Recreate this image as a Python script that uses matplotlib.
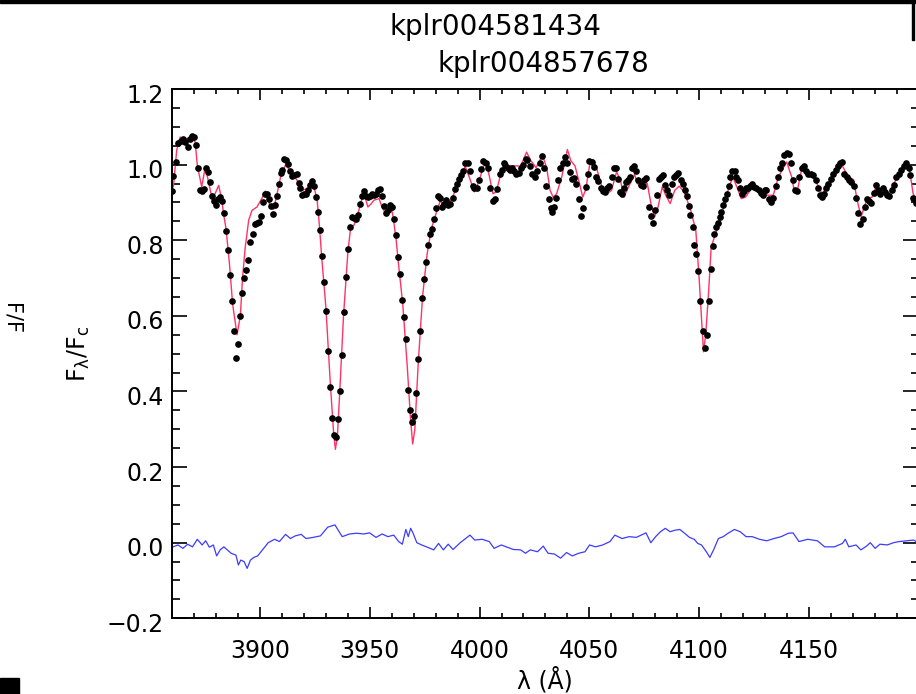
import numpy as np
import matplotlib
matplotlib.use("Agg")
import matplotlib.pyplot as plt
from matplotlib.ticker import MultipleLocator
from matplotlib.patches import Rectangle
import matplotlib.transforms as mtransforms

obs_wave = [3859.9, 3860.5, 3861.6, 3862.7, 3863.8, 3864.8, 3865.8, 3867.0, 3868.1, 3869.1,
            3870.1, 3871.0, 3871.9, 3872.8, 3873.7, 3874.6, 3875.5, 3876.4, 3877.3, 3878.2,
            3879.1, 3880.0, 3880.9, 3881.8, 3882.7, 3883.6, 3884.5, 3885.4, 3886.3, 3887.2,
            3888.1, 3889.0, 3889.9, 3890.8, 3891.7, 3892.7, 3893.7, 3894.6, 3895.6, 3896.6,
            3897.5, 3898.6, 3899.3, 3900.2, 3901.2, 3902.1, 3903.0, 3903.9, 3904.8, 3905.7,
            3906.6, 3907.6, 3908.5, 3909.4, 3910.2, 3911.1, 3911.9, 3912.8, 3913.8, 3914.7,
            3915.6, 3916.6, 3917.5, 3918.4, 3919.3, 3920.2, 3921.1, 3921.9, 3922.8, 3923.7,
            3924.7, 3925.6, 3926.3, 3927.4, 3928.2, 3929.0, 3930.1, 3931.1, 3932.0, 3932.7,
            3933.6, 3934.5, 3935.6, 3936.3, 3937.4, 3938.2, 3939.1, 3940.1, 3940.9, 3941.8,
            3942.8, 3943.5, 3944.6, 3945.5, 3946.4, 3947.3, 3948.2, 3949.2, 3950.1, 3951.0,
            3951.9, 3952.8, 3953.7, 3954.6, 3955.5, 3956.3, 3957.3, 3958.2, 3959.1, 3960.0,
            3960.9, 3962.0, 3962.9, 3963.8, 3964.7, 3965.6, 3966.5, 3967.5, 3968.4, 3969.3,
            3970.2, 3971.1, 3972.0, 3973.0, 3973.9, 3974.8, 3975.7, 3976.6, 3977.5, 3978.4,
            3979.3, 3980.2, 3981.2, 3982.1, 3983.0, 3983.9, 3984.8, 3985.7, 3986.7, 3987.8,
            3988.8, 3989.7, 3990.8, 3991.6, 3992.3, 3993.4, 3994.6, 3995.8, 3996.9, 3997.6,
            3998.7, 3999.6, 4000.7, 4001.6, 4002.7, 4003.8, 4004.9, 4006.0, 4007.1, 4008.0,
            4009.1, 4010.2, 4010.9, 4011.8, 4012.9, 4013.7, 4014.7, 4015.6, 4016.8, 4017.9,
            4019.0, 4020.0, 4021.0, 4021.7, 4022.8, 4023.9, 4025.1, 4026.2, 4027.4, 4028.4,
            4029.4, 4030.4, 4031.5, 4032.4, 4033.2, 4033.9, 4035.0, 4035.8, 4036.8, 4038.1,
            4039.1, 4040.0, 4041.1, 4042.2, 4043.1, 4044.1, 4045.2, 4046.1, 4047.0, 4048.3,
            4049.2, 4049.9, 4051.0, 4052.0, 4053.1, 4054.1, 4055.2, 4056.2, 4057.1, 4058.2,
            4059.1, 4060.1, 4061.2, 4062.0, 4062.9, 4063.9, 4064.7, 4065.6, 4066.5, 4067.4,
            4068.5, 4069.3, 4070.3, 4071.2, 4072.3, 4073.4, 4074.3, 4075.1, 4076.0, 4077.1,
            4078.1, 4079.0, 4080.0, 4080.9, 4081.7, 4082.5, 4083.5, 4084.5, 4085.6, 4086.5,
            4087.6, 4088.6, 4089.5, 4090.6, 4091.7, 4092.5, 4093.4, 4094.3, 4095.2, 4095.9,
            4097.0, 4097.9, 4098.8, 4099.7, 4100.6, 4101.6, 4102.5, 4103.5, 4104.5, 4105.5,
            4106.3, 4107.0, 4107.8, 4108.6, 4109.4, 4110.2, 4110.9, 4111.8, 4112.5, 4113.4,
            4114.3, 4115.2, 4116.3, 4117.0, 4117.9, 4118.5, 4119.4, 4120.3, 4121.2, 4122.3,
            4123.4, 4124.3, 4125.2, 4126.1, 4127.2, 4128.0, 4128.9, 4129.9, 4130.7, 4131.9,
            4132.9, 4133.8, 4134.9, 4135.8, 4136.9, 4137.9, 4138.8, 4139.9, 4141.0, 4141.8,
            4142.7, 4143.7, 4144.8, 4145.7, 4146.8, 4147.8, 4148.8, 4149.8, 4150.9, 4152.1,
            4153.2, 4154.1, 4155.2, 4156.2, 4157.1, 4157.9, 4158.9, 4160.0, 4161.2, 4162.3,
            4163.2, 4164.3, 4165.3, 4166.2, 4167.3, 4168.4, 4169.3, 4170.4, 4171.5, 4172.4,
            4173.4, 4174.5, 4175.4, 4176.5, 4177.6, 4178.5, 4179.5, 4180.6, 4181.5, 4182.6,
            4183.6, 4184.6, 4185.6, 4186.7, 4187.9, 4189.0, 4189.9, 4190.9, 4192.0, 4193.2,
            4194.3, 4195.5, 4196.3, 4197.5, 4198.6]
obs_flux = [0.930, 0.969, 1.006, 1.057, 1.062, 1.067, 1.060, 1.047, 1.069, 1.075,
            1.074, 1.051, 0.990, 0.934, 0.930, 0.935, 0.991, 0.981, 0.955, 0.917,
            0.903, 0.893, 0.908, 0.914, 0.903, 0.872, 0.825, 0.775, 0.709, 0.640,
            0.560, 0.488, 0.525, 0.600, 0.660, 0.701, 0.720, 0.747, 0.795, 0.816,
            0.842, 0.846, 0.849, 0.864, 0.901, 0.922, 0.922, 0.908, 0.890, 0.870,
            0.893, 0.918, 0.948, 0.979, 0.987, 1.015, 1.011, 1.002, 0.983, 0.970,
            0.972, 0.974, 0.951, 0.937, 0.919, 0.923, 0.923, 0.934, 0.947, 0.957,
            0.944, 0.914, 0.875, 0.828, 0.758, 0.690, 0.612, 0.506, 0.413, 0.331,
            0.285, 0.280, 0.326, 0.400, 0.496, 0.609, 0.703, 0.778, 0.835, 0.861,
            0.859, 0.855, 0.866, 0.897, 0.916, 0.930, 0.917, 0.914, 0.918, 0.921,
            0.919, 0.923, 0.932, 0.935, 0.918, 0.890, 0.872, 0.881, 0.893, 0.888,
            0.855, 0.815, 0.755, 0.710, 0.641, 0.598, 0.539, 0.405, 0.350, 0.320,
            0.336, 0.396, 0.485, 0.560, 0.646, 0.698, 0.743, 0.787, 0.817, 0.831,
            0.857, 0.884, 0.916, 0.913, 0.888, 0.895, 0.906, 0.892, 0.897, 0.913,
            0.936, 0.950, 0.961, 0.972, 0.983, 1.004, 1.004, 0.983, 0.943, 0.937,
            0.937, 0.960, 0.988, 1.010, 1.004, 0.991, 0.938, 0.904, 0.908, 0.935,
            0.974, 0.987, 1.003, 0.998, 0.992, 0.987, 0.991, 0.983, 0.974, 0.978,
            0.990, 0.998, 1.016, 1.011, 0.996, 0.974, 0.967, 0.983, 1.004, 1.022,
            0.992, 0.943, 0.908, 0.884, 0.875, 0.888, 0.913, 0.959, 0.990, 1.004,
            1.019, 1.004, 0.981, 0.963, 0.965, 0.948, 0.910, 0.863, 0.884, 0.941,
            0.974, 1.009, 1.007, 0.994, 0.967, 0.957, 0.937, 0.930, 0.928, 0.938,
            0.943, 0.966, 0.992, 0.992, 0.963, 0.928, 0.921, 0.937, 0.954, 0.959,
            0.966, 0.990, 0.996, 0.982, 0.960, 0.945, 0.943, 0.960, 0.965, 0.888,
            0.863, 0.846, 0.879, 0.920, 0.962, 0.966, 0.972, 0.945, 0.932, 0.919,
            0.950, 0.966, 0.972, 0.978, 0.960, 0.948, 0.932, 0.916, 0.890, 0.866,
            0.835, 0.787, 0.763, 0.719, 0.640, 0.560, 0.515, 0.550, 0.640, 0.725,
            0.784, 0.816, 0.835, 0.846, 0.862, 0.875, 0.893, 0.908, 0.922, 0.943,
            0.967, 0.982, 0.982, 0.967, 0.960, 0.937, 0.923, 0.930, 0.937, 0.937,
            0.943, 0.948, 0.941, 0.937, 0.934, 0.925, 0.919, 0.932, 0.934, 0.910,
            0.901, 0.913, 0.943, 0.966, 0.992, 1.004, 1.025, 1.031, 1.027, 1.003,
            0.959, 0.932, 0.930, 0.967, 0.992, 0.996, 0.983, 0.976, 0.976, 0.972,
            0.958, 0.939, 0.919, 0.914, 0.922, 0.937, 0.950, 0.963, 0.974, 0.985,
            0.996, 1.003, 1.007, 0.976, 0.966, 0.958, 0.954, 0.943, 0.913, 0.871,
            0.842, 0.855, 0.888, 0.908, 0.904, 0.899, 0.925, 0.945, 0.934, 0.923,
            0.937, 0.928, 0.919, 0.916, 0.932, 0.945, 0.967, 0.976, 0.987, 0.996,
            1.003, 0.990, 0.972, 0.913, 0.899]

# synthetic model (red line)
model_wave = [3860.5, 3862.0, 3863.6, 3865.1, 3866.6, 3868.9, 3870.4, 3871.4, 3873.4, 3874.9,
              3875.7, 3878.0, 3879.5, 3881.1, 3882.6, 3883.3, 3884.5, 3886.0, 3887.5, 3889.5,
              3891.0, 3892.0, 3893.2, 3894.8, 3896.3, 3898.6, 3900.9, 3902.4, 3904.7, 3906.2,
              3907.4, 3909.5, 3911.5, 3913.8, 3916.9, 3919.2, 3921.5, 3923.7, 3924.3, 3926.0,
              3927.0, 3928.0, 3930.0, 3932.0, 3933.5, 3934.3, 3935.2, 3936.3, 3938.0, 3940.0,
              3941.3, 3942.8, 3944.6, 3946.6, 3947.6, 3949.1, 3950.7, 3951.9, 3954.2, 3955.5,
              3956.8, 3958.3, 3959.6, 3960.6, 3962.0, 3963.0, 3965.0, 3967.0, 3968.5, 3969.5,
              3970.5, 3972.0, 3974.0, 3976.0, 3978.0, 3980.7, 3982.2, 3983.7, 3985.5, 3987.5,
              3989.7, 3991.6, 3993.4, 3995.3, 3997.6, 3999.9, 4002.2, 4003.8, 4006.1, 4007.6,
              4009.9, 4011.4, 4015.0, 4018.7, 4021.4, 4023.3, 4025.7, 4028.7, 4030.6, 4032.1,
              4033.6, 4035.1, 4037.4, 4040.0, 4041.5, 4043.5, 4045.5, 4047.0, 4048.4, 4050.5,
              4051.7, 4053.5, 4055.8, 4058.1, 4060.1, 4062.4, 4064.2, 4065.7, 4068.0, 4070.6,
              4071.8, 4074.1, 4076.4, 4078.2, 4079.8, 4081.3, 4083.2, 4084.8, 4086.8, 4088.9,
              4090.9, 4093.2, 4096.2, 4098.5, 4100.0, 4101.0, 4102.0, 4103.0, 4104.3, 4105.5,
              4108.5, 4110.8, 4113.6, 4115.4, 4117.2, 4119.2, 4121.2, 4123.8, 4126.1, 4128.4,
              4131.5, 4133.8, 4136.1, 4138.4, 4139.9, 4142.2, 4143.3, 4144.8, 4146.8, 4149.1,
              4151.4, 4153.7, 4156.0, 4159.0, 4162.1, 4165.1, 4168.1, 4170.4, 4172.0, 4173.8,
              4176.5, 4178.8, 4180.8, 4183.4, 4186.4, 4189.5, 4193.2, 4195.9, 4197.5, 4199.0]
model_flux = [0.941, 1.038, 1.073, 1.066, 1.069, 1.073, 1.060, 0.998, 0.941, 0.990,
              0.976, 0.914, 0.923, 0.945, 0.906, 0.871, 0.830, 0.740, 0.630, 0.550,
              0.600, 0.700, 0.780, 0.853, 0.879, 0.888, 0.912, 0.930, 0.888, 0.882,
              0.914, 0.972, 0.998, 0.985, 0.958, 0.932, 0.937, 0.945, 0.947, 0.906,
              0.840, 0.760, 0.620, 0.420, 0.290, 0.247, 0.280, 0.400, 0.600, 0.770,
              0.835, 0.840, 0.871, 0.914, 0.919, 0.888, 0.897, 0.906, 0.910, 0.888,
              0.875, 0.871, 0.890, 0.862, 0.800, 0.740, 0.630, 0.470, 0.330, 0.261,
              0.300, 0.470, 0.650, 0.760, 0.830, 0.881, 0.906, 0.884, 0.895, 0.910,
              0.945, 0.958, 0.996, 0.967, 0.928, 0.958, 1.007, 0.987, 0.923, 0.928,
              0.981, 0.998, 0.997, 0.996, 1.033, 1.011, 0.992, 1.025, 0.990, 0.932,
              0.913, 0.923, 0.967, 1.040, 1.011, 0.996, 0.950, 0.914, 0.935, 1.013,
              1.013, 0.987, 0.939, 0.923, 0.932, 0.981, 0.958, 0.914, 0.943, 0.974,
              0.950, 0.941, 0.950, 0.892, 0.862, 0.888, 0.941, 0.919, 0.897, 0.932,
              0.943, 0.928, 0.879, 0.826, 0.700, 0.600, 0.505, 0.550, 0.660, 0.782,
              0.835, 0.879, 0.941, 0.967, 0.941, 0.910, 0.914, 0.937, 0.932, 0.923,
              0.919, 0.919, 0.967, 0.992, 1.007, 0.967, 0.932, 0.932, 0.990, 0.976,
              0.972, 0.950, 0.923, 0.945, 0.976, 0.998, 0.967, 0.960, 0.906, 0.862,
              0.910, 0.914, 0.945, 0.932, 0.923, 0.958, 0.996, 0.985, 0.923, 0.906]

# residual (blue line)
resid_wave = [3860.4, 3862.6, 3864.8, 3867.0, 3869.2, 3871.4, 3873.6, 3875.2, 3876.9, 3878.7,
              3880.2, 3881.8, 3883.5, 3886.8, 3889.0, 3890.1, 3891.2, 3892.7, 3894.1, 3895.6,
              3897.1, 3898.9, 3901.1, 3903.7, 3906.6, 3908.8, 3911.6, 3913.8, 3916.0, 3918.7,
              3920.9, 3924.2, 3927.5, 3930.8, 3934.1, 3937.4, 3940.7, 3944.0, 3947.3, 3949.9,
              3952.8, 3955.6, 3958.2, 3960.9, 3963.1, 3964.8, 3966.4, 3967.5, 3968.6, 3969.7,
              3971.4, 3973.6, 3975.8, 3979.1, 3981.3, 3983.5, 3985.7, 3987.9, 3991.2, 3995.6,
              3997.8, 4001.1, 4004.4, 4006.6, 4009.9, 4012.1, 4015.4, 4018.7, 4020.9, 4023.1,
              4026.4, 4029.0, 4031.2, 4034.1, 4036.9, 4039.6, 4042.2, 4045.1, 4048.0, 4050.1,
              4052.8, 4056.1, 4059.4, 4061.6, 4064.9, 4068.2, 4071.4, 4074.7, 4075.8, 4078.0,
              4080.2, 4082.4, 4084.6, 4086.8, 4089.0, 4091.2, 4093.4, 4095.6, 4097.8, 4099.4,
              4101.1, 4103.3, 4104.9, 4106.6, 4108.8, 4111.0, 4113.2, 4116.1, 4118.7, 4121.4,
              4124.2, 4127.5, 4130.8, 4134.1, 4137.4, 4140.7, 4142.8, 4145.5, 4149.5, 4153.9,
              4157.2, 4161.6, 4165.3, 4166.6, 4168.2, 4171.5, 4173.7, 4176.3, 4178.0, 4180.2,
              4182.4, 4185.7, 4188.6, 4191.2, 4194.5, 4197.8, 4199.6]
resid_flux = [-0.011, -0.006, -0.015, -0.004, -0.011, 0.009, -0.006, 0.005, -0.012, -0.006,
              -0.035, -0.019, -0.011, -0.028, -0.033, -0.059, -0.046, -0.050, -0.068, -0.046,
              -0.039, -0.035, -0.019, 0.000, 0.009, 0.003, 0.022, 0.011, 0.018, 0.022,
              0.011, 0.014, 0.018, 0.041, 0.047, 0.016, 0.023, 0.025, 0.023, 0.026,
              0.014, 0.023, 0.016, 0.020, 0.003, -0.004, 0.035, 0.016, 0.038, 0.025,
              0.000, -0.006, -0.011, -0.019, -0.002, -0.019, -0.004, -0.018, 0.000, 0.020,
              0.007, 0.009, 0.003, -0.015, -0.006, -0.011, -0.018, -0.019, -0.028, -0.019,
              -0.024, -0.009, -0.028, -0.030, -0.041, -0.026, -0.035, -0.028, -0.024, -0.006,
              -0.011, -0.006, 0.003, 0.020, 0.011, 0.016, 0.014, 0.023, 0.026, 0.000,
              0.016, 0.029, 0.038, 0.029, 0.033, 0.035, 0.025, 0.014, 0.009, -0.002,
              -0.006, -0.024, -0.039, -0.019, 0.011, 0.016, 0.025, 0.035, 0.029, 0.016,
              0.016, 0.009, 0.005, 0.011, 0.016, 0.025, 0.026, 0.003, 0.009, 0.005,
              -0.011, -0.011, -0.002, 0.009, -0.011, -0.006, -0.019, -0.009, 0.000, -0.015,
              -0.004, -0.006, 0.000, 0.003, 0.005, 0.007, 0.000]

xticks = [3900, 3950, 4000, 4050, 4100, 4150]
yticks = [-0.2, 0.0, 0.2, 0.4, 0.6, 0.8, 1.0, 1.2]

plt.rcParams['font.family'] = ['DejaVu Sans']
plt.rcParams['mathtext.fontset'] = 'dejavusans'

W, H = 916, 694
fig = plt.figure(figsize=(W / 100, H / 100), dpi=100)
ax = fig.add_axes([172.3 / W, 75.7 / H, (917.5 - 172.3) / W, (618.3 - 89.0) / H])

ax.plot(model_wave, model_flux, color='#ff3366', lw=1.0, zorder=2)
ax.plot(obs_wave, obs_flux, 'o', color='black', ms=3.8, zorder=3)
ax.plot(resid_wave, resid_flux, color='#3c3cff', lw=0.9, zorder=2)

ax.set_xlim(3860, 4199.5)
ax.set_ylim(-0.2, 1.2)
ax.set_xticks(xticks)
ax.set_yticks(yticks)
ax.set_yticklabels([('%.1f' % v).replace('-', '\u2212') for v in yticks])
ax.xaxis.set_minor_locator(MultipleLocator(10))
ax.yaxis.set_minor_locator(MultipleLocator(0.05))
ax.tick_params(which='both', direction='in', top=True, right=True, width=1.2, labelsize=17)
ax.tick_params(axis='x', which='major', length=7.6, pad=15)
ax.tick_params(axis='x', which='minor', length=3.8)
ax.tick_params(axis='y', which='major', length=10.8, pad=6)
ax.tick_params(axis='y', which='minor', length=5.4)
for sp in ax.spines.values():
    sp.set_linewidth(1.4)

offset = mtransforms.ScaledTranslation(0, -0.04, fig.dpi_scale_trans)
for lab in ax.get_yticklabels():
    lab.set_transform(lab.get_transform() + offset)

ax.set_xlabel('λ (Å)', fontsize=17)
ax.xaxis.set_label_coords(0.5, -0.092)
ax.set_ylabel(r'F$_{\mathrm{\lambda}}$/F$_{\mathrm{c}}$', fontsize=17)
ax.yaxis.set_label_coords(-0.108, 0.5)

# titles of the two overlapping plot windows
fig.text(495 / W, 1 - 27 / H, 'kplr004581434', ha='center', va='center', fontsize=20)
fig.text(543 / W, 1 - 64 / H, 'kplr004857678', ha='center', va='center', fontsize=20)

# clipped label and window edges from the window behind
fig.text(21 / W, 1 - 318 / H, 'F/F', rotation=-90, ha='right', va='center', fontsize=15)
fig.patches.append(Rectangle((0, 1 - 3 / H), 915 / W, 3 / H, transform=fig.transFigure,
                             color='black', zorder=5))
fig.patches.append(Rectangle((912 / W, 1 - 40 / H), 2 / W, 40 / H, transform=fig.transFigure,
                             color='black', zorder=5))
fig.patches.append(Rectangle((0, 0), 19 / W, 16.5 / H, transform=fig.transFigure,
                             color='black', zorder=5))

fig.savefig('out.png', dpi=100)
